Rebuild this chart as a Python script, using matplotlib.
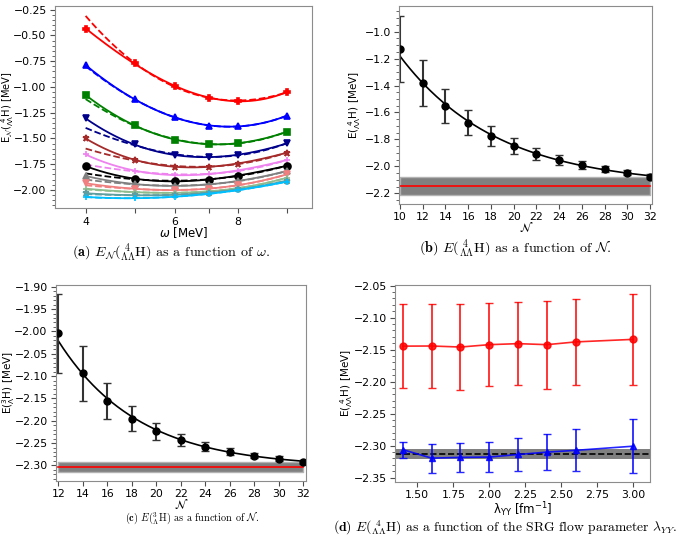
import numpy as np
import matplotlib
matplotlib.use("Agg")
import matplotlib.pyplot as plt
from matplotlib.ticker import AutoMinorLocator, FixedLocator, FixedFormatter, NullLocator

# (a) energy vs oscillator frequency, one curve per N
omega = [4, 5, 6, 7, 8, 10]
N_curves = [10, 12, 14, 16, 18, 20, 22, 24, 26, 28, 30, 32]
E_omega = [
    [-0.434, -0.773, -0.993, -1.106, -1.135, -1.051],
    [-0.789, -1.119, -1.296, -1.377, -1.380, -1.280],
    [-1.080, -1.370, -1.516, -1.554, -1.545, -1.435],
    [-1.306, -1.558, -1.664, -1.680, -1.658, -1.548],
    [-1.500, -1.709, -1.774, -1.774, -1.745, -1.638],
    [-1.655, -1.816, -1.852, -1.845, -1.813, -1.709],
    [-1.768, -1.893, -1.913, -1.900, -1.861, -1.765],
    [-1.864, -1.945, -1.958, -1.948, -1.913, -1.816],
    [-1.935, -1.990, -2.000, -1.987, -1.955, -1.848],
    [-1.987, -2.023, -2.026, -2.013, -1.984, -1.881],
    [-2.032, -2.052, -2.045, -2.030, -1.994, -1.910],
    [-2.068, -2.078, -2.068, -2.039, -2.000, -1.920],
]
# where the dashed fits start at omega = 4
E_dashed_4 = [-0.31, -0.80, -1.12, -1.40, -1.60, -1.755,
              -1.84, -1.90, -1.955, -1.995, -2.04, -2.07]
colors_a = ['red', 'blue', 'green', 'darkblue', 'brown', 'violet', 'black',
            'gray', 'lightcoral', 'darkseagreen', 'cadetblue', 'deepskyblue']
markers_a = ['P', '^', 's', 'v', '*', '+', 'o', '^', 'v', '+', '*', '+']

# (b) 4_LL H vs N
N_b = [10, 12, 14, 16, 18, 20, 22, 24, 26, 28, 30, 32]
E_b = [-1.130, -1.380, -1.549, -1.675, -1.774, -1.849, -1.908, -1.953, -1.990, -2.019, -2.047, -2.076]
err_b = [0.247, 0.173, 0.127, 0.095, 0.073, 0.058, 0.046, 0.037, 0.030, 0.024, 0.020, 0.017]
Einf_b, dEinf_b = -2.144, 0.068

# (c) 3_L H vs N
N_c = [12, 14, 16, 18, 20, 22, 24, 26, 28, 30, 32]
E_c = [-2.0045, -2.094, -2.155, -2.1955, -2.224, -2.2433, -2.258, -2.269, -2.278, -2.285, -2.293]
err_c = [0.089, 0.062, 0.040, 0.0276, 0.019, 0.0135, 0.0105, 0.0075, 0.006, 0.005, 0.004]
Einf_c, dEinf_c = -2.304, 0.0115

# (d) SRG flow parameter dependence
lam = [1.4, 1.6, 1.8, 2.0, 2.2, 2.4, 2.6, 3.0]
E_red = [-2.1446, -2.1444, -2.146, -2.1423, -2.1407, -2.1423, -2.138, -2.134]
err_red = [0.0654, 0.065, 0.0677, 0.065, 0.065, 0.069, 0.0676, 0.0715]
E_blue = [-2.3065, -2.3197, -2.3185, -2.318, -2.314, -2.3103, -2.3075, -2.301]
err_blue = [0.0123, 0.0225, 0.0222, 0.0237, 0.026, 0.028, 0.033, 0.042]
Eref_d, dEref_d = -2.313, 0.008

FS = 7.8
LFS = 8.5
YFS = 7.5
spine_col = '0.55'

fig = plt.figure(figsize=(6.85, 5.42), dpi=100)


def style(ax, ylab_x, xlab_y):
    for s in ax.spines.values():
        s.set_color(spine_col)
    ax.tick_params(labelsize=FS, length=3.5, width=0.8, color='0.3', pad=2.5)
    ax.tick_params(which='minor', length=2, width=0.6, color='0.3')
    ax.yaxis.set_minor_locator(AutoMinorLocator())
    ax.yaxis.set_label_coords(ylab_x, 0.5)
    ax.xaxis.set_label_coords(0.5, xlab_y)


def exp_fit(x, y, e, yinf):
    # straight line in log(E - E_inf), weighted
    x = np.asarray(x, float)
    d = np.asarray(y) - yinf
    p = np.polyfit(x, np.log(d), 1, w=d / np.asarray(e))
    xx = np.linspace(x[0], x[-1], 200)
    return xx, yinf + np.exp(np.polyval(p, xx))


# ---- (a)
ax = fig.add_axes([0.0803, 0.6157, 0.375, 0.3727])
u = np.log(omega)
uu = np.linspace(u[0], u[-1], 200)
for E, E4, c, m in zip(E_omega, E_dashed_4, colors_a, markers_a):
    ps = np.polyfit(u, E, 3)
    pd = np.polyfit(u, [E4] + E[1:], 3)
    ax.plot(np.exp(uu), np.polyval(pd, uu), '--', color=c, lw=1.3)
    ax.plot(np.exp(uu), np.polyval(ps, uu), '-', color=c, lw=1.3)
    ax.plot(omega, E, m, color=c, ms=5, mew=1.2)
ax.set_xscale('log')
ax.set_xlim(3.48, 11.2)
ax.set_ylim(-2.178, -0.218)
ax.xaxis.set_major_locator(FixedLocator(omega))
ax.xaxis.set_major_formatter(FixedFormatter(['4', '', '6', '', '8', '']))
ax.xaxis.set_minor_locator(NullLocator())
ax.set_yticks([-0.25, -0.5, -0.75, -1.0, -1.25, -1.5, -1.75, -2.0])
style(ax, -0.183, -0.084)
ax.set_xlabel(r'$\omega$ [MeV]', fontsize=LFS)
ax.set_ylabel(r'E$_{\mathcal{N}}$(${}^{\;\,4}_{\Lambda\Lambda}$H) [MeV]', fontsize=7.1, va='center')

# ---- (b)
ax = fig.add_axes([0.583, 0.6236, 0.3693, 0.3653])
ax.fill_between([N_b[0], N_b[-1]], Einf_b - dEinf_b, Einf_b + dEinf_b,
                color='gray', edgecolor='0.7', lw=1)
ax.plot([N_b[0], N_b[-1]], [Einf_b, Einf_b], color='red', lw=1.2)
xx, yy = exp_fit(N_b, E_b, err_b, Einf_b)
ax.plot(xx, yy, color='black', lw=1.2)
ax.errorbar(N_b, E_b, yerr=err_b, fmt='o', color='black', ecolor='0.2',
            ms=5, capsize=3, elinewidth=1.5)
ax.set_xlim(9.94, 32.2)
ax.set_ylim(-2.279, -0.81)
ax.set_xticks(N_b)
style(ax, -0.175, -0.092)
ax.set_xlabel(r'$\mathcal{N}$', fontsize=LFS)
ax.set_ylabel(r'E(${}^{\;\,4}_{\Lambda\Lambda}$H) [MeV]', fontsize=YFS, va='center')

# ---- (c)
ax = fig.add_axes([0.0818, 0.1125, 0.3645, 0.3617])
ax.fill_between([N_c[0], N_c[-1]], Einf_c - dEinf_c, Einf_c + dEinf_c,
                color='gray', edgecolor='0.7', lw=1)
ax.plot([N_c[0], N_c[-1]], [Einf_c, Einf_c], color='red', lw=1.2)
xx, yy = exp_fit(N_c, E_c, err_c, Einf_c)
ax.plot(xx, yy, color='black', lw=1.2)
ax.errorbar(N_c, E_c, yerr=err_c, fmt='o', color='black', ecolor='0.2',
            ms=5, capsize=3, elinewidth=1.5)
ax.set_xlim(11.81, 32.19)
ax.set_ylim(-2.335, -1.896)
ax.set_xticks(N_c)
ax.set_yticks(np.arange(-2.30, -1.89, 0.05))
style(ax, -0.19, -0.092)
ax.set_xlabel(r'$\mathcal{N}$', fontsize=LFS)
ax.set_ylabel(r'E(${}^{3}_{\Lambda}$H) [MeV]', fontsize=YFS, va='center')

# ---- (d)
ax = fig.add_axes([0.5766, 0.1107, 0.3723, 0.3635])
ax.axhspan(Eref_d - dEref_d, Eref_d + dEref_d, color='gray', lw=0)
ax.axhline(Eref_d, color='black', ls='--', lw=1.2)
ax.errorbar(lam, E_red, yerr=err_red, fmt='-o', color='red', ms=5,
            capsize=3, elinewidth=1.3, lw=1.2, alpha=0.85)
ax.errorbar(lam, E_blue, yerr=err_blue, fmt='-^', color='blue', ms=5,
            capsize=3, elinewidth=1.3, lw=1.2, alpha=0.85)
ax.set_xlim(1.345, 3.116)
ax.set_ylim(-2.357, -2.049)
ax.set_xticks([1.5, 1.75, 2.0, 2.25, 2.5, 2.75, 3.0])
ax.set_yticks(np.arange(-2.35, -2.04, 0.05))
style(ax, -0.188, -0.092)
ax.set_xlabel(r'λ$_{\rm YY}$ [fm$^{-1}$]', fontsize=LFS)
ax.set_ylabel(r'E(${}^{\;\,4}_{\Lambda\Lambda}$H) [MeV]', fontsize=YFS, va='center')

# captions (serif, as in the paper)
cap = dict(ha='center', va='center', family='cmr10', math_fontfamily='cm')
fig.text(0.25, 0.534,
         r'$\mathbf{(a)}$ $E_{\mathcal{N}}({}^{\;\,4}_{\Lambda\Lambda}\mathrm{H})$ as a function of $\omega$.',
         fontsize=10.2, **cap)
fig.text(0.752, 0.54,
         r'$\mathbf{(b)}$ $E({}^{\;\,4}_{\Lambda\Lambda}\mathrm{H})$ as a function of $\mathcal{N}$.',
         fontsize=10.2, **cap)
fig.text(0.281, 0.042,
         r'$\mathbf{(c)}$ $E({}^{3}_{\Lambda}\mathrm{H})$ as a function of $\mathcal{N}$.',
         fontsize=7.4, **cap)
fig.text(0.738, 0.026,
         r'$\mathbf{(d)}$ $E({}^{\;\,4}_{\Lambda\Lambda}\mathrm{H})$ as a function of the SRG flow parameter $\lambda_{YY}$.',
         fontsize=9.8, **cap)

fig.savefig('out.png', dpi=100)
